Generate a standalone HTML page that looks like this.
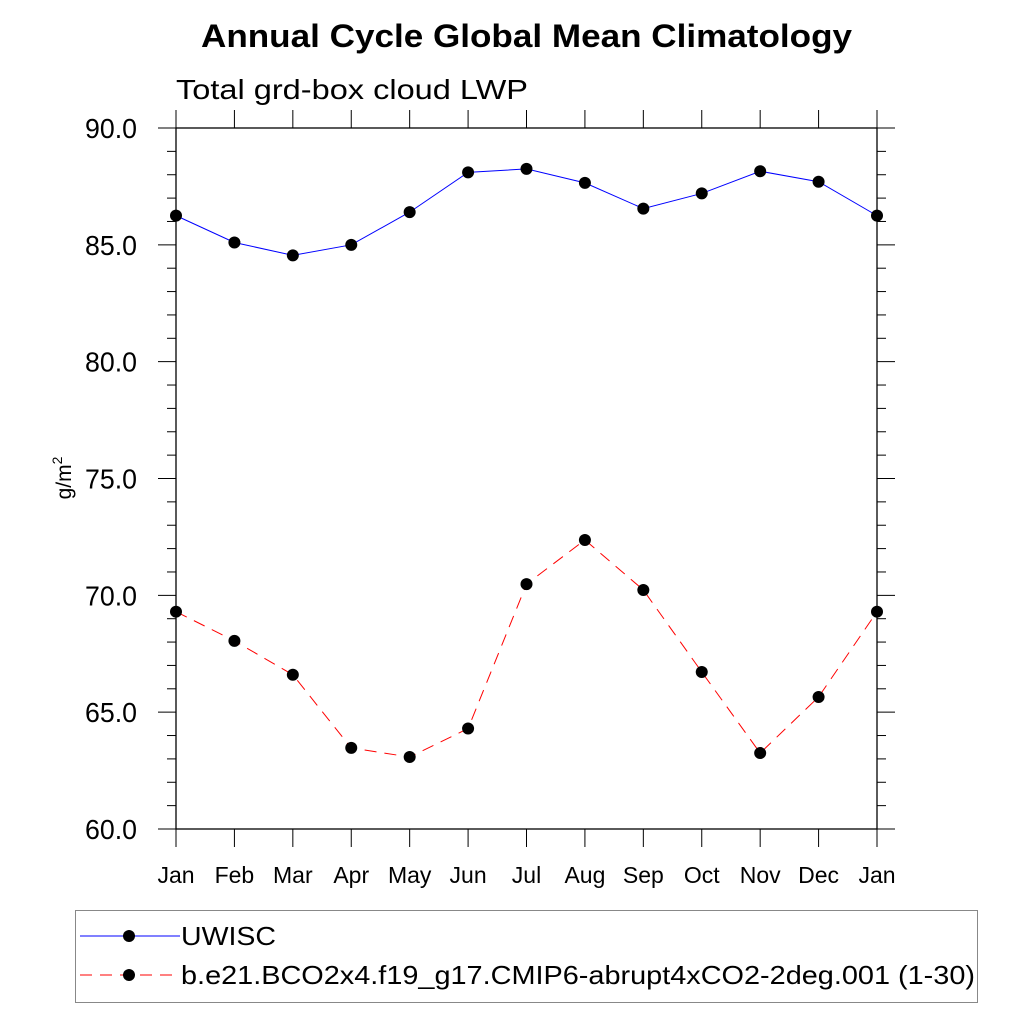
<!DOCTYPE html>
<html><head><meta charset="utf-8"><style>
body{margin:0;background:#fff}
svg text{font-family:"Liberation Sans",Arial,sans-serif}
</style></head><body>
<svg id="chart" width="1024" height="1024" xmlns="http://www.w3.org/2000/svg">
<text x="201" y="47" font-size="32" font-weight="bold" textLength="651" lengthAdjust="spacingAndGlyphs">Annual Cycle Global Mean Climatology</text>
<text x="176" y="99" font-size="28" textLength="352" lengthAdjust="spacingAndGlyphs">Total grd-box cloud LWP</text>
<text transform="translate(71,478) rotate(-90)" font-size="21" text-anchor="middle">g/m<tspan dy="-9" font-size="14">2</tspan></text>
<g id="axes"></g>
<g id="series"></g>
<rect x="75.5" y="910.5" width="902" height="92" fill="none" stroke="#888" stroke-width="1"/>
<g>
<line x1="80" y1="936" x2="180" y2="936" stroke="#0000ff" stroke-width="1"/>
<circle cx="129" cy="936" r="6" fill="#000"/>
<text x="181" y="945" font-size="26" textLength="95" lengthAdjust="spacingAndGlyphs">UWISC</text></g>
<g>
<line x1="80" y1="975" x2="180" y2="975" stroke="#ff0000" stroke-width="1" stroke-dasharray="12,8"/>
<circle cx="129" cy="975" r="6" fill="#000"/>
<text x="181" y="984" font-size="26" textLength="794" lengthAdjust="spacingAndGlyphs">b.e21.BCO2x4.f19_g17.CMIP6-abrupt4xCO2-2deg.001 (1-30)</text></g>
</svg>
<script>
const months=["Jan","Feb","Mar","Apr","May","Jun","Jul","Aug","Sep","Oct","Nov","Dec","Jan"];
const uwisc=[86.25,85.1,84.55,85.0,86.4,88.1,88.25,87.65,86.55,87.2,88.15,87.7,86.25];
const model=[69.3,68.05,66.6,63.47,63.08,64.3,70.48,72.37,70.23,66.72,63.25,65.65,69.3];
const yTicks=[60,65,70,75,80,85,90];
const yTickLabels=["60.0","65.0","70.0","75.0","80.0","85.0","90.0"];
const X0=176,X1=877,Y0=829,Y1=128,ymin=60,ymax=90;
const xs=i=>X0+(X1-X0)*i/(months.length-1);
const ys=v=>Y0-(Y0-Y1)*(v-ymin)/(ymax-ymin);
const NS="http://www.w3.org/2000/svg";
function mk(t,a,p){const e=document.createElementNS(NS,t);for(const k in a)e.setAttribute(k,a[k]);p.appendChild(e);return e;}
const ax=document.getElementById('axes');
const fr=mk('rect',{x:X0,y:Y1,width:X1-X0,height:Y0-Y1,fill:'none',stroke:'#000','stroke-width':1.3},ax);


for(let v=ymin;v<=ymax;v++){
  const major=(v%5===0);const y=ys(v);const L=major?18:9;
  mk('line',{x1:X0-L,y1:y,x2:X0,y2:y,stroke:'#000','stroke-width':1},ax);
  mk('line',{x1:X1,y1:y,x2:X1+L,y2:y,stroke:'#000','stroke-width':1},ax);
}
yTicks.forEach((v,i)=>{
  const t=mk('text',{x:85,y:ys(v)+10,'font-size':28,textLength:52,lengthAdjust:'spacingAndGlyphs'},ax);
  t.textContent=yTickLabels[i];
  
  
});
months.forEach((m,i)=>{
  const x=xs(i);
  mk('line',{x1:x,y1:Y0,x2:x,y2:Y0+18,stroke:'#000','stroke-width':1},ax);
  mk('line',{x1:x,y1:Y1,x2:x,y2:Y1-18,stroke:'#000','stroke-width':1},ax);
  const t=mk('text',{x:x,y:883,'font-size':23,'text-anchor':'middle'},ax);
  t.textContent=m;
  
  
});
const sg=document.getElementById('series');
function draw(data,color,dash,name){
  const pts=data.map((v,i)=>xs(i)+','+ys(v)).join(' ');
  const pl=mk('polyline',{points:pts,fill:'none',stroke:color,'stroke-width':1,'stroke-dasharray':dash},sg);
  
  
  data.forEach((v,i)=>{
    const c=mk('circle',{cx:xs(i),cy:ys(v),r:6,fill:'#000'},sg);
    
    
  });
}
draw(uwisc,'#0000ff','none','uwisc');
draw(model,'#ff0000','12,8','model');
</script>
</body></html>
